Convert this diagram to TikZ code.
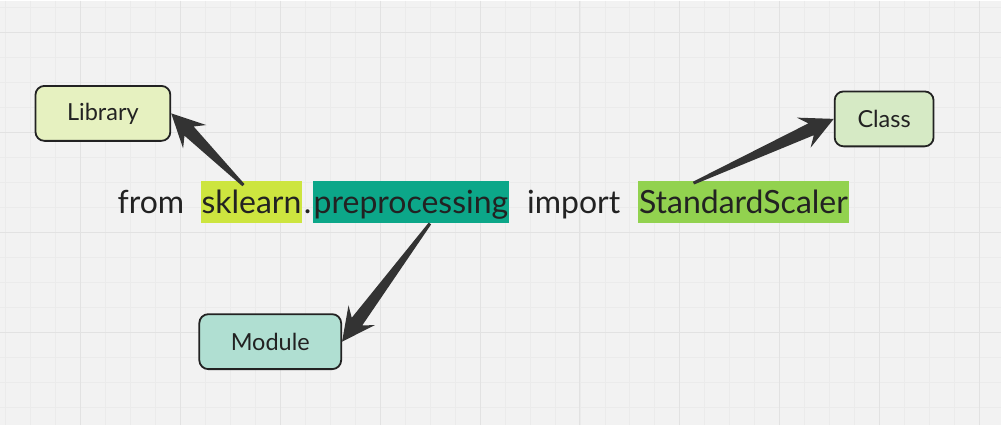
\documentclass[tikz,border=0pt]{standalone}
\usepackage{fontspec}
\setmainfont{Lato}
\usetikzlibrary{calc,positioning}

\definecolor{canvasbg}{HTML}{F2F2F2}
\definecolor{gridminor}{HTML}{EBEBEB}
\definecolor{gridmajor}{HTML}{E2E2E2}
\definecolor{inkdark}{HTML}{222222}
\definecolor{wedgegray}{HTML}{333333}
\definecolor{libfill}{HTML}{E6F1C0}
\definecolor{clsfill}{HTML}{D6EAC5}
\definecolor{modfill}{HTML}{B0DFD2}
\definecolor{skhl}{HTML}{CDE53F}
\definecolor{prehl}{HTML}{0CA789}
\definecolor{sshl}{HTML}{92D24F}

% tapered arrow from a thin tail to a wide head
\newcommand{\wedgearrow}[2]{%
  \fill[wedgegray] let \p1=(#1), \p2=(#2),
      \n1={atan2(\y2-\y1,\x2-\x1)},
      \n2={veclen(\x2-\x1,\y2-\y1)},
      \n3={\n2-25pt}, \n4={\n2-33pt} in
    ($(\p1)+(\n1+90:1.5pt)$)
    -- ($(\p1)+(\n1:\n3)+(\n1+90:6.5pt)$)
    -- ($(\p1)+(\n1:\n4)+(\n1+90:16.5pt)$)
    -- (\p2)
    -- ($(\p1)+(\n1:\n4)+(\n1-90:16.5pt)$)
    -- ($(\p1)+(\n1:\n3)+(\n1-90:6.5pt)$)
    -- ($(\p1)+(\n1-90:1.5pt)$) -- cycle;
}

\begin{document}
\begin{tikzpicture}[
        x=1pt, y=-1pt,
        box/.style={
            rectangle,
            rounded corners=9pt,
            draw=inkdark,
            line width=1.8pt,
            align=center,
            minimum height=55pt,
            font=\fontsize{23.5}{28}\selectfont,
            text=inkdark
        },
        word/.style={
            inner xsep=1pt,
            inner ysep=0pt,
            text height=32pt,
            text depth=10pt,
            font=\fontsize{32}{38}\selectfont,
            text=inkdark,
            anchor=west
        }
    ]

        % canvas and grid
        \fill[canvasbg] (0,0) rectangle (1001,425);
        \foreach \x in {5,30,...,1000}
            \draw[gridminor, line width=0.8pt] (\x,0) -- (\x,425);
        \foreach \y in {7,32,...,425}
            \draw[gridminor, line width=0.8pt] (0,\y) -- (1001,\y);
        \foreach \x in {80,180,...,1000}
            \draw[gridmajor, line width=1pt] (\x,0) -- (\x,425);
        \foreach \y in {32,132,...,425}
            \draw[gridmajor, line width=1pt] (0,\y) -- (1001,\y);

        % the import line
        \node[word] (from) at (116,202) {from};
        \node[word, fill=skhl] (sk) at (200,202) {sklearn};
        \node[word, right=0pt of sk] (dot) {.};
        \node[word, fill=prehl, right=0pt of dot] (pre) {preprocessing};
        \node[word] (imp) at (526,202) {import};
        \node[word, fill=sshl] (ss) at (638,202) {StandardScaler};

        % labels
        \node[box, fill=libfill, minimum width=135pt] (lib) at (102.5,113) {Library};
        \node[box, fill=clsfill, minimum width=99pt] (cls) at (884.5,118.5) {Class};
        \node[box, fill=modfill, minimum width=142pt] (mod) at (270,341.5) {Module};

        \coordinate (skt) at ($(sk.north)+(-8pt,-4pt)$);
        \coordinate (pret) at ($(pre.south)+(19pt,0pt)$);
        \coordinate (sst) at ($(ss.north)+(-50pt,-2pt)$);

        \wedgearrow{skt}{lib.east}
        \wedgearrow{pret}{mod.east}
        \wedgearrow{sst}{cls.west}

    \end{tikzpicture}
\end{document}
